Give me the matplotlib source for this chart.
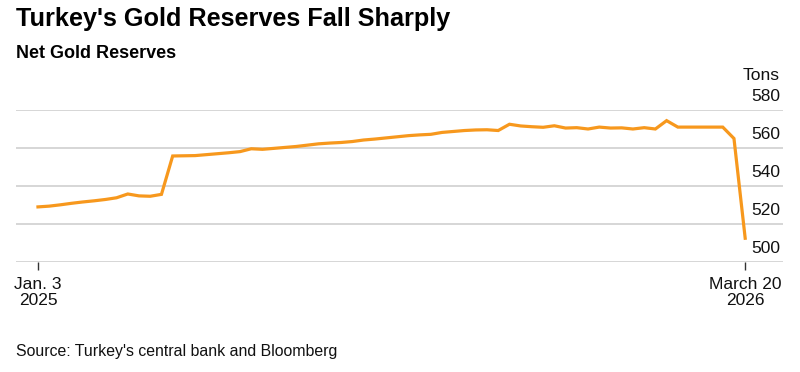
import pandas as pd
import matplotlib.pyplot as plt
import matplotlib.transforms as mtransforms

plt.rcParams['font.family'] = ['Liberation Sans', 'DejaVu Sans']

# Weekly net gold reserves (tons), Jan 3 2025 - March 20 2026
dates = pd.date_range('2025-01-03', '2026-03-20', freq='7D')
reserves = [
    529.0, 529.4, 530.1, 530.9, 531.6, 532.2, 532.9, 533.8, 535.8, 534.8,
    534.6, 535.6, 555.8, 555.9, 556.0, 556.5, 557.0, 557.5, 558.1, 559.6,
    559.3, 559.8, 560.3, 560.8, 561.5, 562.2, 562.6, 562.9, 563.4, 564.2,
    564.7, 565.3, 565.9, 566.5, 566.9, 567.2, 568.2, 568.7, 569.2, 569.5,
    569.6, 569.2, 572.5, 571.6, 571.2, 570.9, 571.7, 570.5, 570.7, 570.0,
    571.0, 570.5, 570.6, 570.0, 570.7, 570.0, 574.4, 571.0, 571.0, 571.0,
    571.0, 571.0, 565.0, 512.5,
]
y_ticks = [500, 520, 540, 560, 580]
x_ticks = [pd.Timestamp('2025-01-03'), pd.Timestamp('2026-03-20')]
x_labels = ['Jan. 3\n2025', 'March 20\n2026']

fig = plt.figure(figsize=(8, 3.72), dpi=100)
ax = fig.add_axes([0.02, 0.2957, 0.959, 0.4086])

ax.plot(dates, reserves, color='#F7981D', linewidth=2.3, solid_joinstyle='miter')

ax.set_ylim(500, 580)
ax.set_xlim(x_ticks[0] - pd.Timedelta(days=13.7), x_ticks[1] + pd.Timedelta(days=23.7))

# grid lines with labels sitting above them
label_tr = mtransforms.offset_copy(ax.get_yaxis_transform(), fig=fig, x=-2, y=4, units='points')
for v in y_ticks:
    ax.axhline(v, color='#cccccc', linewidth=1.1, zorder=0)
    ax.text(1.0, v, str(v), transform=label_tr, ha='right', va='bottom',
            fontsize=12.5, color='#111111')
fig.text(0.975, 0.798, 'Tons', ha='right', va='center', fontsize=12.5, color='#111111')
ax.set_yticks([])

for s in ax.spines.values():
    s.set_visible(False)

ax.set_xticks(x_ticks)
ax.set_xticklabels(x_labels, fontsize=12.5, color='#111111', linespacing=1.1)
ax.tick_params(axis='x', length=6, width=1, color='#333333', pad=5)

fig.text(0.02, 0.95, "Turkey's Gold Reserves Fall Sharply", fontsize=18.2,
         fontweight='bold', va='center', ha='left', color='#000000')
fig.text(0.02, 0.857, 'Net Gold Reserves', fontsize=13, fontweight='bold',
         va='center', ha='left', color='#000000')
fig.text(0.02, 0.054, "Source: Turkey's central bank and Bloomberg", fontsize=11.4,
         va='center', ha='left', color='#111111')

fig.savefig('out.png', dpi=100)
